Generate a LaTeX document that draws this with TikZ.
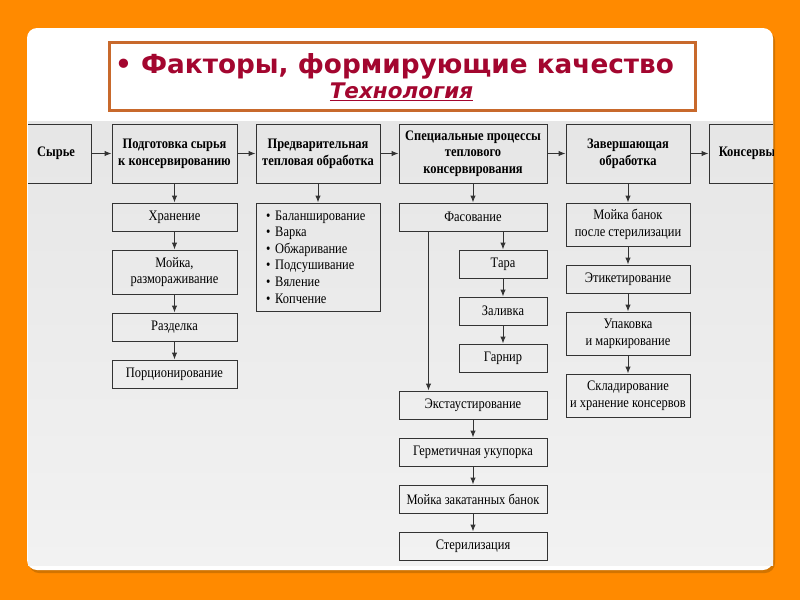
\documentclass[tikz,border=0pt]{standalone}
\usepackage{fontspec}
\setmainfont{Liberation Serif}
\newfontfamily\diagfont[FakeStretch=0.86]{Liberation Serif}
\newfontfamily\titlefont{DejaVu Sans}
\usetikzlibrary{arrows.meta}
\usetikzlibrary{positioning}

\definecolor{orangebg}{HTML}{FF8A00}
\definecolor{cardshadow}{HTML}{D27400}
\definecolor{titleframe}{HTML}{C8692C}
\definecolor{titlered}{HTML}{A3062F}
\definecolor{boxline}{HTML}{333333}
\definecolor{diagtop}{HTML}{E6E6E6}
\definecolor{diagbot}{HTML}{F2F2F2}

\tikzset{
  stagebox/.style={draw=boxline, line width=1pt, align=center, inner sep=1pt,
    minimum width=125pt, minimum height=28pt,
    font={\diagfont\fontsize{14.5pt}{16.6pt}\selectfont}},
  headbox/.style={stagebox, minimum height=59pt,
    font={\diagfont\bfseries\fontsize{14.5pt}{16.6pt}\selectfont}},
  arr/.style={draw=boxline, line width=1pt, -{Latex[length=7pt,width=5.5pt]}},
}

\begin{document}
\begin{tikzpicture}[x=1pt, y=-1pt]
  \useasboundingbox (0,0) rectangle (800,600);
  \fill[orangebg] (0,0) rectangle (800,600);
  \fill[cardshadow, rounded corners=10pt] (29,31) rectangle (775,573);
  \fill[white, rounded corners=10pt] (27,28) rectangle (773,570);

  % title
  \draw[titleframe, line width=3pt, fill=white] (109,42) rectangle (695,110);
  \node[anchor=base, text=titlered, inner sep=0pt,
    font={\titlefont\bfseries\fontsize{26.3pt}{30pt}\selectfont}] (title) at (394.5,73)
    {• Факторы, формирующие качество};
  \node[anchor=base, text=titlered, inner sep=0pt,
    font={\titlefont\bfseries\itshape\fontsize{21.5pt}{25pt}\selectfont}] (subtitle) at (401.5,98)
    {\underline{Технология}};

  % diagram
  \fill[top color=diagtop, bottom color=diagbot] (28,121) rectangle (773,565);
  \begin{scope}
    \clip (28,121) rectangle (773,565);
    \node[headbox, minimum width=70pt] (syr) at (56,153.5) {Сырье};
    \node[headbox, right=20pt of syr] (podg) {Подготовка сырья\\к консервированию};
    \node[headbox, minimum width=124pt, right=18pt of podg] (pred) {Предварительная\\тепловая обработка};
    \node[headbox, minimum width=148pt, right=18pt of pred] (spec) {Специальные процессы\\теплового\\консервирования};
    \node[headbox, minimum width=124pt, right=18pt of spec] (zav) {Завершающая\\обработка};
    \node[headbox, minimum width=76pt, right=18pt of zav] (kons) {Консервы};

    \node[stagebox, below=19pt of podg] (hran) {Хранение};
    \node[stagebox, minimum height=44pt, below=18pt of hran] (mojka) {Мойка,\\размораживание};
    \node[stagebox, below=18pt of mojka] (razd) {Разделка};
    \node[stagebox, below=18pt of razd] (porc) {Порционирование};

    \node[stagebox, minimum width=124pt, minimum height=108pt, below=19pt of pred,
      align=left, text width=104pt, inner xsep=10pt] (list)
      {• Баланширование\\• Варка\\• Обжаривание\\• Подсушивание\\• Вяление\\• Копчение};

    \node[stagebox, minimum width=148pt, below=19pt of spec] (fas) {Фасование};
    \node[stagebox, minimum width=88pt, below left=18pt and 0pt of fas.south east] (tara) {Тара};
    \node[stagebox, minimum width=88pt, below=18pt of tara] (zal) {Заливка};
    \node[stagebox, minimum width=88pt, below=18pt of zal] (garn) {Гарнир};
    \coordinate (c3) at (garn.south -| fas.south);
    \node[stagebox, minimum width=148pt, below=18pt of c3] (eks) {Экстаустирование};
    \node[stagebox, minimum width=148pt, below=18pt of eks] (germ) {Герметичная укупорка};
    \node[stagebox, minimum width=148pt, below=18pt of germ] (mzak) {Мойка закатанных банок};
    \node[stagebox, minimum width=148pt, below=18pt of mzak] (ster) {Стерилизация};

    \node[stagebox, minimum width=124pt, minimum height=43pt, below=19pt of zav] (mban) {Мойка банок\\после стерилизации};
    \node[stagebox, minimum width=124pt, below=18pt of mban] (etik) {Этикетирование};
    \node[stagebox, minimum width=124pt, minimum height=43pt, below=18pt of etik] (upak) {Упаковка\\и маркирование};
    \node[stagebox, minimum width=124pt, minimum height=43pt, below=18pt of upak] (sklad) {Складирование\\и хранение консервов};

    \foreach \a/\b in {syr/podg, podg/pred, pred/spec, spec/zav, zav/kons}
      \draw[arr] (\a) -- (\b);
    \foreach \a/\b in {podg/hran, hran/mojka, mojka/razd, razd/porc, pred/list,
      spec/fas, tara/zal, zal/garn, eks/germ, germ/mzak, mzak/ster,
      zav/mban, mban/etik, etik/upak, upak/sklad}
      \draw[arr] (\a) -- (\b);
    \draw[arr] (fas.south -| tara.north) -- (tara.north);
    \draw[arr] ([xshift=30pt]fas.south west) -- ([xshift=30pt]eks.north west);
  \end{scope}
\end{tikzpicture}
\end{document}
